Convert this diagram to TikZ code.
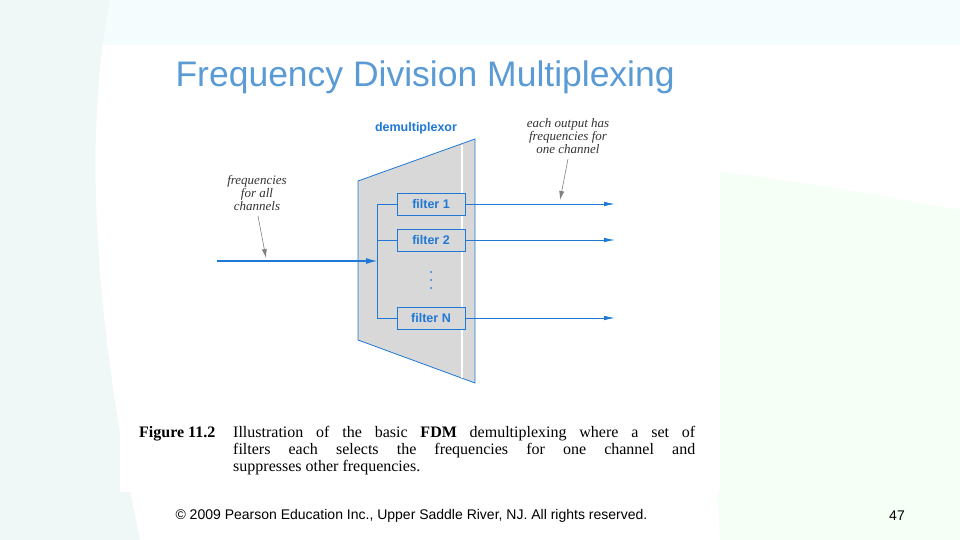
\documentclass[tikz,border=0pt]{standalone}
\usepackage{fontspec}
\setmainfont{Liberation Serif}
\setsansfont{Liberation Sans}
\usetikzlibrary{arrows.meta}
\definecolor{ttl}{HTML}{5B9BD5}
\definecolor{fb}{HTML}{1F78D8}
\definecolor{gfill}{HTML}{D8D8D8}
\tikzset{x=1pt,y=-1pt,
 filt/.style={draw=fb,fill=gfill,line width=0.8pt,minimum width=68pt,minimum height=22pt,inner sep=0pt,font=\sffamily\bfseries\fontsize{12.5}{12}\selectfont,text=fb},
 sig/.style={draw=fb,line width=0.8pt},
 outsig/.style={sig,-{Latex[length=11pt,width=4.5pt]}},
 note/.style={font=\itshape\fontsize{13}{13}\selectfont,align=center,text=black!80},
 pointer/.style={draw=gray,line width=0.6pt,-{Latex[length=9pt,width=5pt]}},
 dot/.style={circle,fill=fb,inner sep=0pt,minimum size=2pt}}
\begin{document}
\begin{tikzpicture}
\useasboundingbox (0,0) rectangle (960,540);
\fill[white] (0,0) rectangle (960,540);
\fill[cyan!4] (0,0) rectangle (960,45);
\fill[green!4] (700,170) .. controls (800,180) and (900,200) .. (960,210) -- (960,540) -- (720,540) -- cycle;
\fill[teal!6] (0,0) -- (110,0) .. controls (80,150) and (100,350) .. (140,540) -- (0,540) -- cycle;
\node[anchor=west,font=\sffamily\fontsize{35.5}{36}\selectfont,text=ttl] (title) at (172,77) {Frequency Division Multiplexing};
\fill[white] (120,102) rectangle (720,492);
% demux
\fill[gfill,draw=fb,line width=0.8pt] (358,181) -- (475,139) -- (475,383) -- (358,340) -- cycle;
\draw[white,line width=1.2pt] (462,145) -- (462,378);
\node[font=\sffamily\bfseries\fontsize{12.5}{12}\selectfont,text=fb] (dm) at (416,128) {demultiplexor};
\node[filt] (f1) at (431,204) {filter 1};
\node[filt] (f2) at (431,240) {filter 2};
\node[filt] (fN) at (431,318) {filter N};
\node[dot] (d1) at (431,272) {};
\node[dot] (d2) at (431,280) {};
\node[dot] (d3) at (431,288) {};
\coordinate (bt) at (377,204);
\coordinate (bb) at (377,318);
\coordinate (in) at (217,261);
\coordinate (bm) at (378,261);
\draw[sig] (f1.west) -- (bt) -- (bb) -- (fN.west);
\draw[sig] (f2.west) -- (377,240);
\draw[sig,line width=1.6pt,-{Latex[length=12pt,width=6pt]}] (in) -- (bm);
\coordinate (o1) at (615,204);
\coordinate (o2) at (615,240);
\coordinate (oN) at (615,318);
\draw[outsig] (f1.east) -- (o1);
\draw[outsig] (f2.east) -- (o2);
\draw[outsig] (fN.east) -- (oN);
\node[note] (n1) at (257,193) {frequencies\\for all\\channels};
\node[note] (n2) at (568,136) {each output has\\frequencies for\\one channel};
\coordinate (a1) at (266,258);
\coordinate (a2) at (560,200);
\draw[pointer] ([xshift=1pt,yshift=-2pt]n1.south) -- (a1);
\draw[pointer] ([yshift=-2pt]n2.south) -- (a2);
\node[anchor=north west,inner sep=0pt,font=\bfseries\fontsize{16}{17}\selectfont] (figl) at (139,426) {Figure 11.2};
\node[anchor=north west,align=left,font=\fontsize{16}{17}\selectfont,inner sep=0pt] (cap) at (233,426)
 {\makebox[462pt][s]{Illustration of the basic \textbf{FDM} demultiplexing where a set of}\\
  \makebox[462pt][s]{filters each selects the frequencies for one channel and}\\
  suppresses other frequencies.};
\node[anchor=west,font=\sffamily\fontsize{14}{14}\selectfont] (foot) at (172,516) {© 2009 Pearson Education Inc., Upper Saddle River, NJ. All rights reserved.};
\node[font=\sffamily\fontsize{14}{14}\selectfont] (pg) at (897,516) {47};
\end{tikzpicture}
\end{document}
